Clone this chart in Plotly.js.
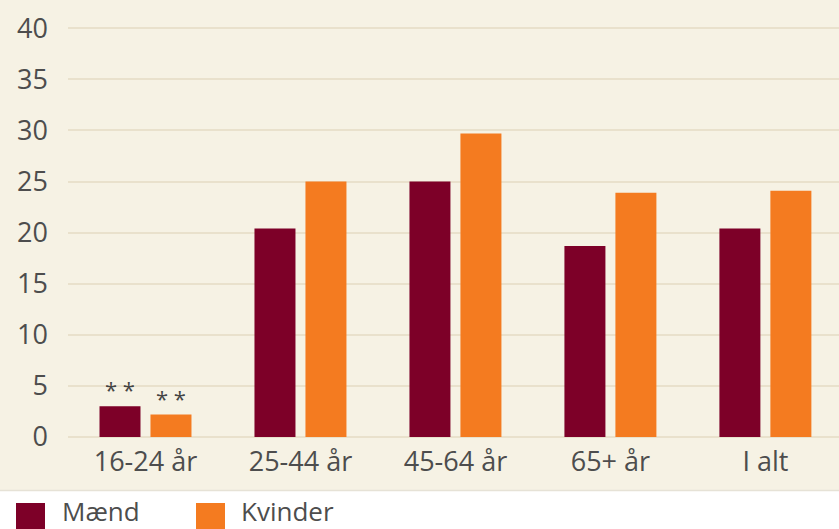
<!DOCTYPE html>
<html>
<head>
<meta charset="utf-8">
<script src="https://cdn.plot.ly/plotly-3.0.1.min.js"></script>
<style>html,body{margin:0;padding:0;background:#fff;}#chart{width:839px;height:529px;}</style>
</head>
<body>
<div id="chart"></div>
<script>
var categories = ["16-24 år", "25-44 år", "45-64 år", "65+ år", "I alt"];
var maend = [3.0, 20.4, 25.0, 18.7, 20.4];
var kvinder = [2.2, 25.0, 29.7, 23.9, 24.1];
var maendNotes = ["* *", "", "", "", ""];
var kvinderNotes = ["* *", "", "", "", ""];
var seriesNames = ["Mænd", "Kvinder"];
var yTicks = [0, 5, 10, 15, 20, 25, 30, 35, 40];

var colM = "#7d0028", colK = "#f47b20";
var txt = "#4d4d4d";
var font = "Open Sans";

var traces = [
  {type: "bar", name: seriesNames[0], x: categories, y: maend, marker: {color: colM}, hoverinfo: "none"},
  {type: "bar", name: seriesNames[1], x: categories, y: kvinder, marker: {color: colK}, hoverinfo: "none"}
];

var ann = [];
categories.forEach(function (c, i) {
  if (maendNotes[i]) ann.push({x: c, y: maend[i], xref: "x", yref: "y", text: maendNotes[i], showarrow: false,
    xshift: -25.5, yanchor: "bottom", yshift: 0, font: {family: font, size: 22, color: "#444"}});
  if (kvinderNotes[i]) ann.push({x: c, y: kvinder[i], xref: "x", yref: "y", text: kvinderNotes[i], showarrow: false,
    xshift: 25.5, yanchor: "bottom", yshift: 0, font: {family: font, size: 22, color: "#444"}});
});

// legend drawn manually
var W = 771, H = 419; // plot area size
function px(xp) { return (xp - 68) / W; }
function py(yp) { return (437 - yp) / H; }
var shapes = [
  {type: "rect", xref: "paper", yref: "paper", x0: px(-5), x1: px(845), y0: py(490), y1: py(-5),
   fillcolor: "#f6f2e4", line: {width: 0}, layer: "below"},
  {type: "line", xref: "paper", yref: "paper", x0: px(-5), x1: px(845), y0: py(490.5), y1: py(490.5),
   line: {color: "#e6e2d6", width: 1.5}, layer: "below"},
  {type: "rect", xref: "paper", yref: "paper", x0: px(16), x1: px(45), y0: py(532), y1: py(503),
   fillcolor: colM, line: {width: 0}},
  {type: "rect", xref: "paper", yref: "paper", x0: px(196), x1: px(225), y0: py(532), y1: py(503),
   fillcolor: colK, line: {width: 0}}
];
ann.push({xref: "paper", yref: "paper", x: px(60), y: py(511), text: seriesNames[0], showarrow: false,
  xanchor: "left", yanchor: "middle", font: {family: font, size: 26, color: txt}});
ann.push({xref: "paper", yref: "paper", x: px(239), y: py(511), text: seriesNames[1], showarrow: false,
  xanchor: "left", yanchor: "middle", font: {family: font, size: 26, color: txt}});

var layout = {
  width: 839, height: 529,
  margin: {l: 68, r: 0, t: 18, b: 92, pad: 0},
  paper_bgcolor: "#ffffff",
  plot_bgcolor: "rgba(0,0,0,0)",
  showlegend: false,
  barmode: "group",
  bargap: 0.342,
  bargroupgap: 0.196,
  font: {family: font, color: txt, size: 27},
  xaxis: {range: [-0.5, 4.475], showgrid: false, zeroline: false, showline: false, ticks: "",
    tickfont: {family: font, size: 27, color: txt}, ticklabelstandoff: 6, fixedrange: true},
  yaxis: {range: [0, 41], tickvals: yTicks, ticktext: yTicks.map(String), showgrid: true,
    gridcolor: "#e9e1cc", gridwidth: 2, zeroline: true, zerolinecolor: "#e9e1cc", zerolinewidth: 2,
    showline: false, ticks: "", tickfont: {family: font, size: 27, color: txt}, ticklabelstandoff: 19, fixedrange: true},
  shapes: shapes,
  annotations: ann
};

Plotly.newPlot("chart", traces, layout, {displayModeBar: false, staticPlot: true});
</script>
</body>
</html>
